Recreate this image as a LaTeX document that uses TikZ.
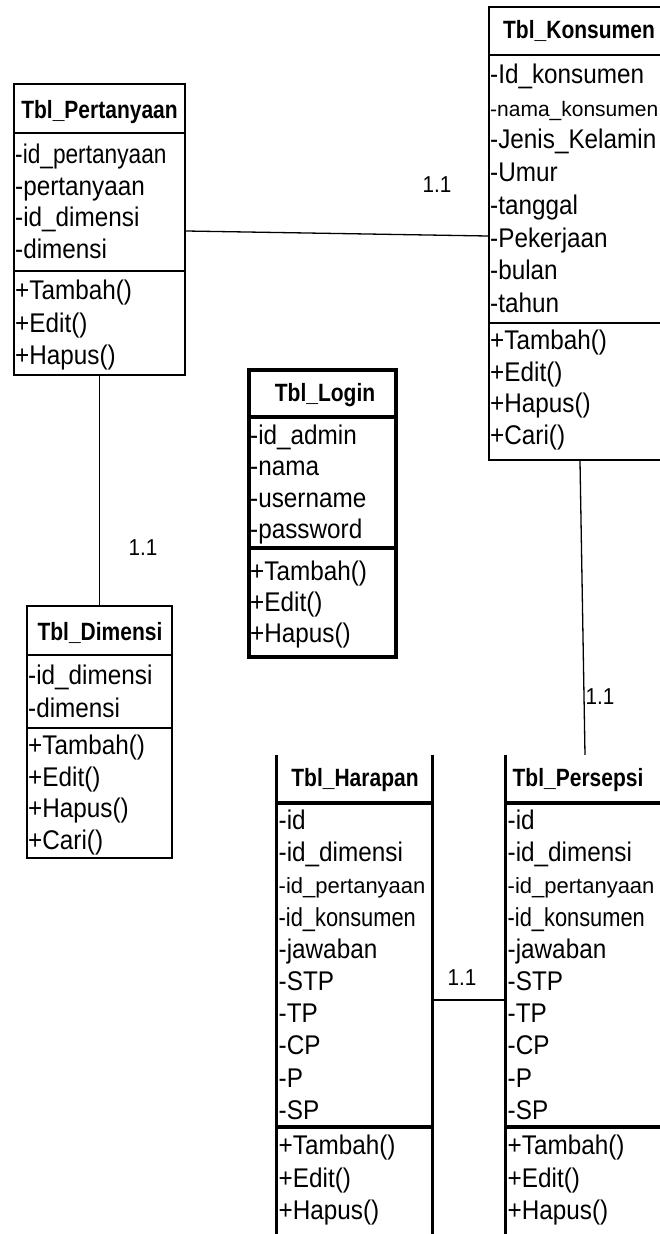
\documentclass[tikz,border=0pt]{standalone}
\usepackage{fontspec}
\setmainfont{Liberation Sans}[FakeStretch=0.9]
\newfontfamily\sqfont{Liberation Sans}[FakeStretch=0.84]
\newfontfamily\plainfont{Liberation Sans}
\begin{document}
\begin{tikzpicture}[x=1pt,y=-1pt,
  boxA/.style={draw, line width=2.4pt, inner sep=0pt, rectangle},
  boxB/.style={boxA, line width=3.2pt},
  ghost/.style={inner sep=0pt, rectangle},
  sepA/.style={line width=2.4pt},
  sepB/.style={line width=3.2pt},
  attr/.style={anchor=base west, inner sep=0pt, font=\fontsize{27}{31}\selectfont},
  head/.style={anchor=base, inner sep=0pt, font=\sqfont\bfseries\fontsize{25}{29}\selectfont},
  conn/.style={line width=1.3pt},
  card/.style={inner sep=0pt, font=\fontsize{23}{27}\selectfont}
]
\useasboundingbox (0,0) rectangle (660,1234);
\clip (0,0) rectangle (660,1234);

% ---------- Tbl_Pertanyaan ----------
\node[boxA, minimum width=171pt, minimum height=291pt] (pert) at (99.5,229.5) {};
\draw[sepA] (14,133) -- (185,133);
\draw[sepA] (14,271) -- (185,271);
\node[head] (pertH) at (99.5,118.5) {Tbl\_Pertanyaan};
\node[attr] (pa1) at (15,163.5) {\sqfont -id\_pertanyaan};
\foreach \t [count=\i] in {-pertanyaan,-id\_dimensi,-dimensi}
  \node[attr] (pa\i x) at (15,163.5+31.7*\i) {\t};
\foreach \t [count=\i from 0] in {+Tambah(),+Edit(),+Hapus()}
  \node[attr] (pm\i) at (15,299.5+32.5*\i) {\t};

% ---------- Tbl_Konsumen ----------
\node[boxA, minimum width=175pt, minimum height=453pt] (kons) at (576.5,233.5) {};
\draw[sepA] (489,55) -- (664,55);
\draw[sepA] (489,323) -- (664,323);
\node[head] (konsH) at (579,38.5) {Tbl\_Konsumen};
\node[attr] (ka1) at (490,83.5) {-Id\_konsumen};
\node[attr] (ka2) at (490,83.5+32.7) {\plainfont\fontsize{21}{25}\selectfont -nama\_konsumen};
\foreach \t [count=\i from 2] in {-Jenis\_Kelamin,-Umur,-tanggal,-Pekerjaan,-bulan,-tahun}
  \node[attr] (ka\i x) at (490,83.5+32.7*\i) {\t};
\foreach \t [count=\i from 0] in {+Tambah(),+Edit(),+Hapus(),+Cari()}
  \node[attr] (km\i) at (490,349.5+31.7*\i) {\t};

% ---------- Tbl_Login ----------
\node[boxB, minimum width=147pt, minimum height=287pt] (login) at (322.5,513.5) {};
\draw[sepB] (249,417) -- (396,417);
\draw[sepB] (249,548) -- (396,548);
\node[head] (loginH) at (325,401.5) {Tbl\_Login};
\foreach \t [count=\i from 0] in {-id\_admin,-nama,-username,-password}
  \node[attr] (la\i) at (250,444.5+31.3*\i) {\t};
\foreach \t [count=\i from 0] in {+Tambah(),+Edit(),+Hapus()}
  \node[attr] (lm\i) at (250,580.5+31*\i) {\t};

% ---------- Tbl_Dimensi ----------
\node[boxA, minimum width=145pt, minimum height=252pt] (dim) at (99.5,732) {};
\draw[sepA] (27,655) -- (172,655);
\draw[sepA] (27,728) -- (172,728);
\node[head] (dimH) at (100,640.5) {Tbl\_Dimensi};
\foreach \t [count=\i from 0] in {-id\_dimensi,-dimensi}
  \node[attr] (da\i) at (28,684.5+32.5*\i) {\t};
\foreach \t [count=\i from 0] in {+Tambah(),+Edit(),+Hapus(),+Cari()}
  \node[attr] (dm\i) at (28,754.5+31.7*\i) {\t};

% ---------- Tbl_Harapan ----------
\node[ghost, minimum width=155pt, minimum height=485pt] (harap) at (354.5,997.5) {};
\draw[sepB] (harap.north west) -- (harap.south west);
\draw[sepB] (harap.north east) -- (harap.south east);
\draw[sepB] (277,803) -- (432,803);
\draw[sepB] (277,1127) -- (432,1127);
\node[head] (harapH) at (355,786.5) {Tbl\_Harapan};
\foreach \t [count=\i from 0] in {-id,-id\_dimensi,{\plainfont\fontsize{22}{26}\selectfont -id\_pertanyaan},{\sqfont\fontsize{26}{30}\selectfont -id\_konsumen},-jawaban,-STP,-TP,-CP,-P,-SP}
  \node[attr] (ha\i) at (278.5,829.5+32.2*\i) {\t};
\foreach \t [count=\i from 0] in {+Tambah(),+Edit(),+Hapus()}
  \node[attr] (hm\i) at (278.5,1154.5+32.5*\i) {\t};

% ---------- Tbl_Persepsi ----------
\node[ghost, minimum width=158pt, minimum height=485pt] (pers) at (585,997.5) {};
\draw[sepB] (pers.north west) -- (pers.south west);
\draw[sepB] (pers.north east) -- (pers.south east);
\draw[sepB] (506,803) -- (664,803);
\draw[sepB] (506,1127) -- (664,1127);
\node[head] (persH) at (578,786.5) {Tbl\_Persepsi};
\foreach \t [count=\i from 0] in {-id,-id\_dimensi,{\plainfont\fontsize{22}{26}\selectfont -id\_pertanyaan},{\sqfont\fontsize{26}{30}\selectfont -id\_konsumen},-jawaban,-STP,-TP,-CP,-P,-SP}
  \node[attr] (pa\i y) at (507.5,829.5+32.2*\i) {\t};
\foreach \t [count=\i from 0] in {+Tambah(),+Edit(),+Hapus()}
  \node[attr] (pm\i y) at (507.5,1154.5+32.5*\i) {\t};

% ---------- connectors ----------
\draw[conn] (pert.east |- 0,231) -- (kons.west |- 0,236);
\draw[conn] (pert.south) -- (dim.north);
\draw[conn] (kons.south -| 580,0) -- (pers.north -| 585,0);
\draw[conn] (harap.east |- 0,1000) -- (pers.west |- 0,1000);

% ---------- multiplicities ----------
\node[card] (m1) at (437,185) {1.1};
\node[card] (m2) at (143,548) {1.1};
\node[card] (m3) at (600,697) {1.1};
\node[card] (m4) at (462,978) {1.1};
\end{tikzpicture}
\end{document}
